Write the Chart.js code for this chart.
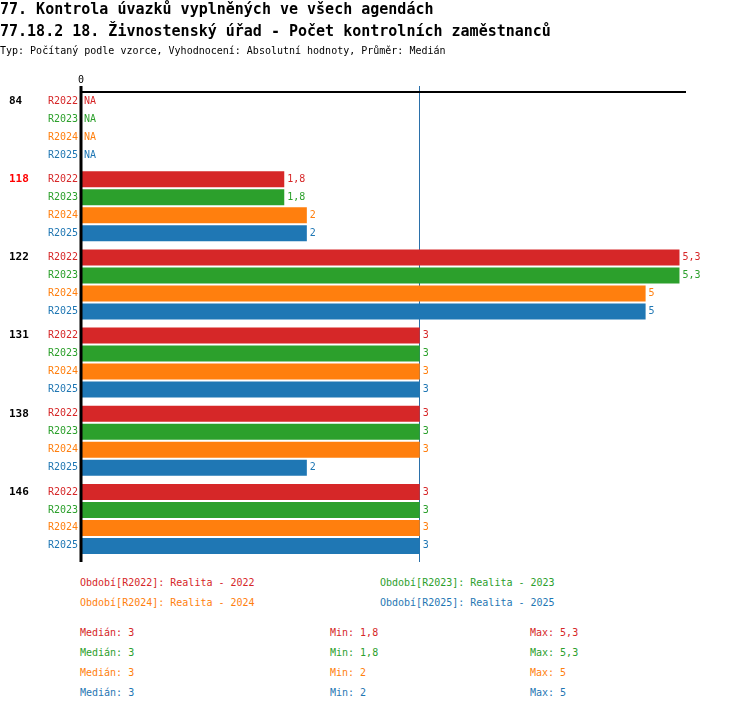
<!DOCTYPE html>
<html>
<head>
<meta charset="utf-8">
<script src="https://cdn.jsdelivr.net/npm/chart.js@4.4.0/dist/chart.umd.min.js"></script>
<style>
  body { margin: 0; background: #fff; font-family: "DejaVu Sans Mono", monospace; }
  #wrap { position: relative; width: 750px; height: 710px; }
  .t { position: absolute; white-space: pre; }
  .h1 { font-size: 15px; font-weight: bold; left: 0; }
  .sub { font-size: 10px; left: 0; top: 45px; }
  .s { font-size: 10px; }
  canvas { position: absolute; left: 0; top: 0; }
</style>
</head>
<body>
<div id="wrap">
  <canvas id="myChart" width="750" height="570"></canvas>
  <div class="t h1" style="top:0px">77. Kontrola úvazků vyplněných ve všech agendách</div>
  <div class="t h1" style="top:22px">77.18.2 18. Živnostenský úřad - Počet kontrolních zaměstnanců</div>
  <div class="t sub">Typ: Počítaný podle vzorce, Vyhodnocení: Absolutní hodnoty, Průměr: Medián</div>
  <div id="legend"></div>
</div>
<script>
const groups = ['84', '118', '122', '131', '138', '146'];
const highlighted = '118';
const seriesNames = ['R2022', 'R2023', 'R2024', 'R2025'];
const seriesTitles = ['Realita - 2022', 'Realita - 2023', 'Realita - 2024', 'Realita - 2025'];
const r2022 = [null, 1.8, 5.3, 3, 3, 3];
const r2023 = [null, 1.8, 5.3, 3, 3, 3];
const r2024 = [null, 2, 5, 3, 3, 3];
const r2025 = [null, 2, 5, 3, 2, 3];
const colors = ['#d62728', '#2ca02c', '#ff7f0e', '#1f77b4'];
const medianValue = 3;

const fmt = (v) => String(v).replace('.', ',');

const ctx = document.getElementById('myChart').getContext('2d');

const data = {
  labels: groups,
  datasets: [r2022, r2023, r2024, r2025].map((vals, i) => ({
    label: seriesNames[i],
    data: vals,
    backgroundColor: colors[i],
    categoryPercentage: 0.92,
    barPercentage: 0.89
  }))
};

const labelsPlugin = {
  id: 'labels',
  beforeDatasetsDraw(chart) {
    // median line behind the bars
    const c = chart.ctx;
    const xm = Math.round(chart.scales.x.getPixelForValue(medianValue));
    c.save();
    c.strokeStyle = '#2b70aa';
    c.lineWidth = 1;
    c.beginPath();
    c.moveTo(xm - 0.5, 86);
    c.lineTo(xm - 0.5, chart.chartArea.bottom + 4);
    c.stroke();
    c.restore();
  },
  afterDraw(chart) {
    const c = chart.ctx;
    const x = chart.scales.x;
    const area = chart.chartArea;
    const x0 = x.getPixelForValue(0);
    c.save();
    // top line and zero axis
    c.strokeStyle = '#000';
    c.lineWidth = 2;
    c.beginPath();
    c.moveTo(x0, 92);
    c.lineTo(686, 92);
    c.stroke();
    c.lineWidth = 3;
    c.beginPath();
    c.moveTo(x0, 86);
    c.lineTo(x0, area.bottom + 4);
    c.stroke();
    c.fillStyle = '#000';
    c.font = '10px "DejaVu Sans Mono"';
    c.textAlign = 'center';
    c.textBaseline = 'middle';
    c.fillText('0', x0, 80);
    // group labels
    c.font = 'bold 11px "DejaVu Sans Mono"';
    c.textAlign = 'left';
    groups.forEach((g, i) => {
      const y = chart.scales.y.getPixelForValue(i);
      c.fillStyle = g === highlighted ? '#ff0000' : '#000';
      c.fillText(g, 9, y - 27);
    });
    // bar labels
    c.font = '10px "DejaVu Sans Mono"';
    chart.data.datasets.forEach((ds, di) => {
      const meta = chart.getDatasetMeta(di);
      meta.data.forEach((el, i) => {
        const v = ds.data[i];
        c.fillStyle = colors[di];
        c.textAlign = 'right';
        c.fillText(seriesNames[di], x0 - 3, el.y);
        c.textAlign = 'left';
        if (v === null) {
          c.fillText('NA', x0 + 3, el.y);
        } else {
          c.fillText(fmt(v), el.x + 3, el.y);
        }
      });
    });
    c.restore();
  }
};

new Chart(ctx, {
  type: 'bar',
  data: data,
  options: {
    indexAxis: 'y',
    responsive: false,
    animation: false,
    layout: { padding: { left: 81, right: 66, top: 89, bottom: 12 } },
    plugins: { legend: { display: false }, tooltip: { enabled: false } },
    scales: {
      x: { display: false, min: 0, max: 5.34 },
      y: { display: false }
    }
  },
  plugins: [labelsPlugin]
});

// legend and stats below the chart
const legend = document.getElementById('legend');
function addText(txt, left, top, color) {
  const d = document.createElement('div');
  d.className = 't s';
  d.style.left = left + 'px';
  d.style.top = top + 'px';
  d.style.color = color;
  d.textContent = txt;
  legend.appendChild(d);
}
seriesNames.forEach((s, i) => {
  addText('Období[' + s + ']: ' + seriesTitles[i], i % 2 === 0 ? 80 : 380, 577 + Math.floor(i / 2) * 20, colors[i]);
});
[r2022, r2023, r2024, r2025].forEach((vals, i) => {
  const v = vals.filter((n) => n !== null).sort((a, b) => a - b);
  const mid = Math.floor(v.length / 2);
  const med = v.length % 2 ? v[mid] : (v[mid - 1] + v[mid]) / 2;
  const top = 627 + i * 20;
  addText('Medián: ' + fmt(med), 80, top, colors[i]);
  addText('Min: ' + fmt(v[0]), 330, top, colors[i]);
  addText('Max: ' + fmt(v[v.length - 1]), 530, top, colors[i]);
});
</script>
</body>
</html>
